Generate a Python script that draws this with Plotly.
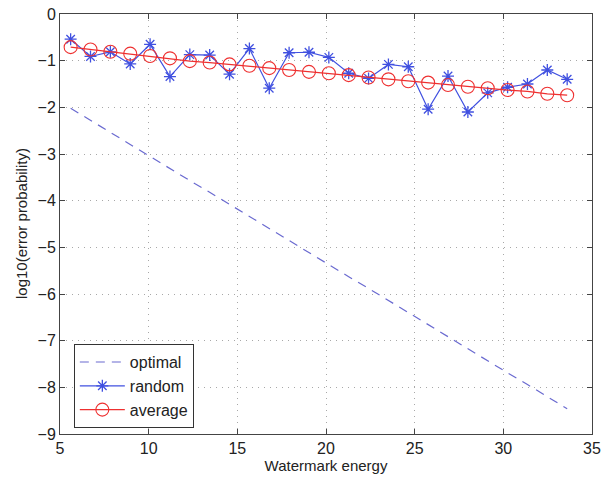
import plotly.graph_objects as go

energy = [5.6, 6.72, 7.84, 8.96, 10.08, 11.2, 12.32, 13.44, 14.56, 15.68,
          16.8, 17.92, 19.04, 20.16, 21.28, 22.4, 23.52, 24.64, 25.76, 26.88,
          28.0, 29.12, 30.24, 31.36, 32.48, 33.6]

optimal = [-2.02, -2.28, -2.54, -2.79, -3.05, -3.31, -3.57, -3.82, -4.08, -4.34,
           -4.60, -4.85, -5.11, -5.37, -5.63, -5.88, -6.14, -6.40, -6.66, -6.91,
           -7.17, -7.43, -7.69, -7.94, -8.20, -8.46]

random_vals = [-0.54, -0.91, -0.81, -1.07, -0.65, -1.34, -0.87, -0.88, -1.29, -0.74,
               -1.59, -0.83, -0.82, -0.93, -1.27, -1.38, -1.08, -1.13, -2.04, -1.33,
               -2.10, -1.69, -1.57, -1.50, -1.20, -1.40]

average = [-0.71, -0.76, -0.81, -0.85, -0.90, -0.95, -1.01, -1.04, -1.08, -1.11,
           -1.16, -1.20, -1.24, -1.27, -1.31, -1.36, -1.40, -1.44, -1.47, -1.52,
           -1.56, -1.59, -1.63, -1.66, -1.71, -1.74]

x_ticks = [5, 10, 15, 20, 25, 30, 35]
y_ticks = [0, -1, -2, -3, -4, -5, -6, -7, -8, -9]

font = "Liberation Sans, Arial, sans-serif"

fig = go.Figure()
fig.add_trace(go.Scatter(x=energy, y=optimal, mode="lines", name="optimal",
                         line=dict(color="#6a6ad0", width=1.2, dash="9px,7px")))
fig.add_trace(go.Scatter(x=energy, y=random_vals, mode="lines+markers", name="random",
                         line=dict(color="#4050e0", width=1.2),
                         marker=dict(symbol="asterisk-open", size=10,
                                     line=dict(color="#1020ee", width=1.3))))
fig.add_trace(go.Scatter(x=energy, y=average, mode="lines+markers", name="average",
                         line=dict(color="#ee3030", width=1.2),
                         marker=dict(symbol="circle-open", size=13,
                                     line=dict(color="#ee3030", width=1.1))))

axis_common = dict(showline=True, linecolor="#444", linewidth=1, mirror="allticks",
                   ticks="inside", ticklen=5, tickcolor="#444", automargin=False,
                   ticklabeloverflow="allow",
                   showgrid=True, gridcolor="#a8a8a8", griddash="1px,5px", gridwidth=1,
                   zeroline=False, tickfont=dict(family=font, size=16, color="#222"))

fig.update_layout(
    width=606, height=477,
    margin=dict(l=60, r=14, t=14, b=43),
    paper_bgcolor="white", plot_bgcolor="white",
    font=dict(family=font, size=15, color="#222"),
    xaxis=dict(range=[5, 35], tickvals=x_ticks,
               title=dict(text="Watermark energy", font=dict(size=15), standoff=0),
               **axis_common),
    yaxis=dict(range=[-9, 0], tickvals=y_ticks,
               ticktext=[("\u2212" + str(abs(v))) if v < 0 else str(v) for v in y_ticks],
               **axis_common),
    annotations=[dict(text="log10(error probability)", textangle=-90,
                      xref="paper", yref="paper", x=0, y=0.5,
                      xanchor="center", yanchor="middle", xshift=-39,
                      showarrow=False, font=dict(family=font, size=15, color="#222"))],
    legend=dict(x=0.026, y=0.214, xanchor="left", yanchor="top",
                bgcolor="white", bordercolor="#333", borderwidth=1,
                font=dict(family=font, size=16, color="#222"),
                itemwidth=45, tracegroupgap=0),
    showlegend=True,
)

fig.write_html("out.html", config={"displayModeBar": False},
               post_script="document.body.style.margin='0';document.body.style.overflow='hidden';")
